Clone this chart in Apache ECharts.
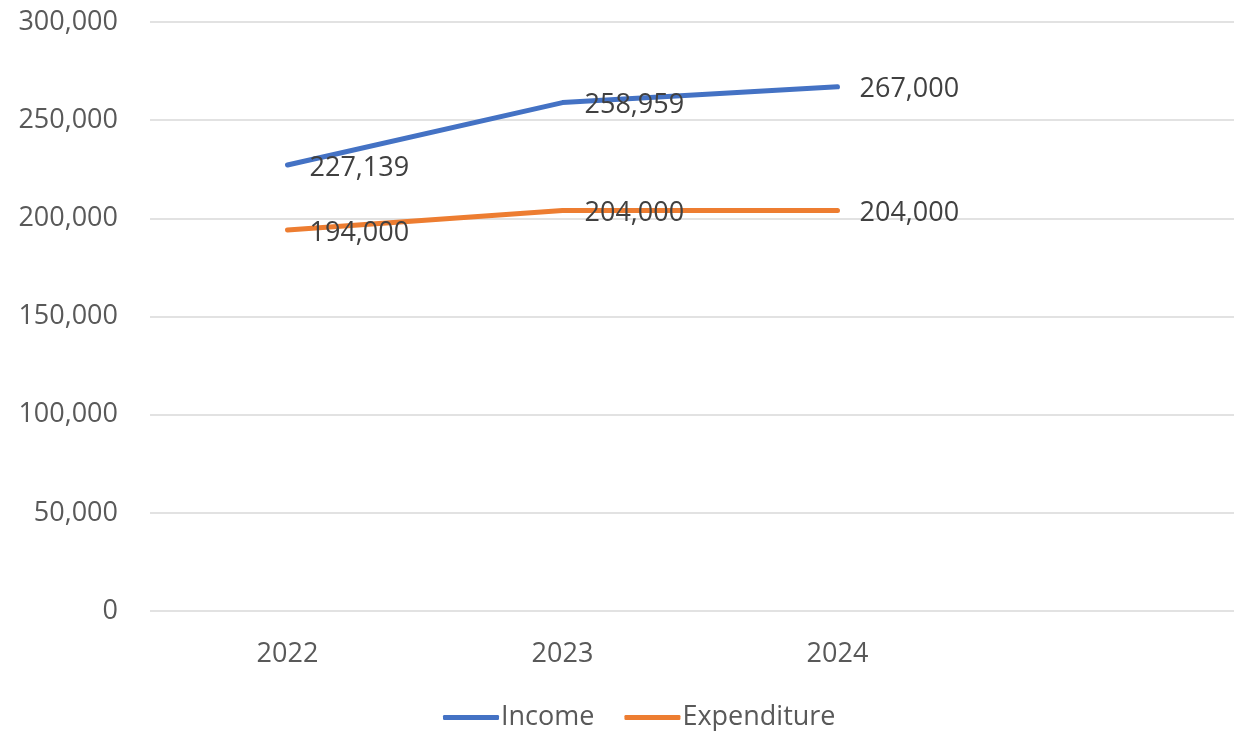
<!DOCTYPE html>
<html><head><meta charset="utf-8">
<script src="https://cdn.jsdelivr.net/npm/echarts@6/dist/echarts.min.js"></script>
<style>html,body{margin:0;padding:0;background:#fff}#c{width:1234px;height:731px}</style>
</head><body><div id="c"></div>
<script>
const categories = ['2022', '2023', '2024', ''];
const income = [227139, 258959, 267000, null];
const expenditure = [194000, 204000, 204000, null];
const yTicks = { min: 0, max: 300000, interval: 50000 };

const font = 'Open Sans';
const fs = 27;
const chart = echarts.init(document.getElementById('c'));
const fmt = v => v.toLocaleString('en-US');
const lbl = {
  show: true, position: 'right', distance: 21, offset: [0, 3],
  color: '#404040', fontSize: fs, fontFamily: font,
  formatter: p => fmt(p.value)
};
chart.setOption({
  animation: false,
  grid: { left: 150, width: 1100, top: 22, height: 589, outerBoundsMode: 'none', containLabel: false },
  legend: {
    top: 699, left: 438, itemWidth: 56, itemHeight: 5, itemGap: 30,
    icon: 'roundRect',
    textStyle: { color: '#595959', fontSize: fs, fontFamily: font, padding: [0, 0, 0, -3] },
    data: ['Income', 'Expenditure']
  },
  xAxis: {
    type: 'category', data: categories, boundaryGap: true,
    axisLine: { show: false }, axisTick: { show: false },
    axisLabel: { color: '#595959', fontSize: fs, fontFamily: font, margin: 30 }
  },
  yAxis: {
    type: 'value', min: yTicks.min, max: yTicks.max, interval: yTicks.interval,
    axisLine: { show: false }, axisTick: { show: false },
    splitLine: { lineStyle: { color: '#D9D9D9', width: 1.5 } },
    axisLabel: { color: '#595959', fontSize: fs, fontFamily: font, margin: 32, formatter: fmt }
  },
  series: [
    { name: 'Income', type: 'line', data: income, symbol: 'circle', symbolSize: 2, showSymbol: true,
      itemStyle: { color: '#4472C4' }, color: '#4472C4',
      lineStyle: { width: 5, cap: 'round', color: '#4472C4' }, label: lbl },
    { name: 'Expenditure', type: 'line', data: expenditure, symbol: 'circle', symbolSize: 2, showSymbol: true,
      itemStyle: { color: '#ED7D31' }, color: '#ED7D31',
      lineStyle: { width: 5, cap: 'round', color: '#ED7D31' }, label: lbl }
  ]
});
</script></body></html>
